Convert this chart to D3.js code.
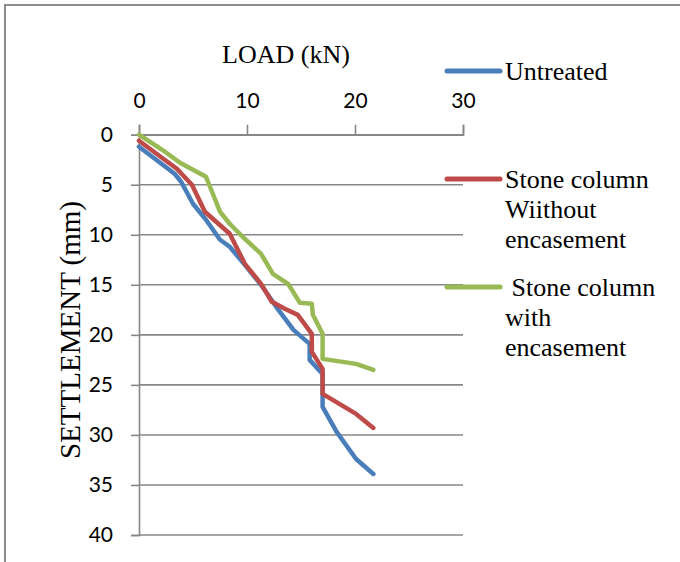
<!DOCTYPE html>
<html>
<head>
<meta charset="utf-8">
<script src="https://cdn.jsdelivr.net/npm/d3@7"></script>
<style>
  html, body { margin: 0; padding: 0; background: #fff; }
  svg { display: block; }
  .serif { font-family: "Liberation Serif", "Times New Roman", serif; fill: #000; }
  .tick text { font-family: Lato, "Open Sans", sans-serif; font-size: 21px; fill: #000; }
</style>
</head>
<body>
<svg id="chart" width="680" height="562"></svg>
<script>
// Load (kN) vs settlement (mm) for each ground condition
const untreatedLoad       = [0, 3.3, 3.9, 5.0, 6.2, 7.5, 8.4, 9.8, 11.3, 12.7, 14.3, 15.8, 15.8, 17.0, 17.0, 18.3, 20.1, 21.7];
const untreatedSettlement = [1.2, 3.9, 4.7, 6.9, 8.5, 10.5, 11.2, 13.0, 15.0, 17.2, 19.5, 20.9, 22.5, 23.9, 27.2, 29.7, 32.4, 33.9];

const withoutEncLoad       = [0, 3.5, 4.9, 6.1, 8.4, 9.8, 11.3, 12.3, 13.5, 14.7, 16.0, 16.0, 17.0, 17.0, 20.1, 21.7];
const withoutEncSettlement = [0.6, 3.4, 5.0, 7.7, 9.9, 12.9, 14.9, 16.7, 17.4, 18.0, 19.9, 21.7, 23.4, 25.9, 27.9, 29.3];

const withEncLoad       = [0, 2.4, 3.8, 6.2, 7.5, 8.4, 9.6, 11.3, 12.4, 13.8, 14.9, 16.0, 16.1, 17.0, 17.0, 20.1, 21.7];
const withEncSettlement = [0, 1.7, 2.8, 4.2, 7.7, 8.9, 10.2, 11.9, 13.9, 14.9, 16.8, 16.9, 18.0, 19.9, 22.4, 22.9, 23.5];

const loadTicks = [0, 10, 20, 30];
const settlementTicks = [0, 5, 10, 15, 20, 25, 30, 35, 40];

const seriesNames = ["Untreated", "Stone column\nWiithout\nencasement", " Stone column\nwith\nencasement"];
const seriesColors = ["#4A7EBB", "#BE4B48", "#98B954"];

const series = [
  { name: seriesNames[0], color: seriesColors[0], load: untreatedLoad, settle: untreatedSettlement },
  { name: seriesNames[1], color: seriesColors[1], load: withoutEncLoad, settle: withoutEncSettlement },
  { name: seriesNames[2], color: seriesColors[2], load: withEncLoad, settle: withEncSettlement }
];

const svg = d3.select("#chart");

// outer chart frame (top and left edges)
svg.append("path")
  .attr("d", "M5,562 L5,5 L680,5")
  .attr("fill", "none").attr("stroke", "#8c8c8c").attr("stroke-width", 2);

const x = d3.scaleLinear().domain([0, 30]).range([139, 463]);
const y = d3.scaleLinear().domain([0, 40]).range([134.7, 535]);

// horizontal gridlines
svg.append("g").selectAll("line")
  .data(settlementTicks)
  .join("line")
  .attr("x1", x(0)).attr("x2", x(30))
  .attr("y1", d => y(d)).attr("y2", d => y(d))
  .attr("stroke", "#878787").attr("stroke-width", 1.6);

// top load axis
const xAxis = svg.append("g")
  .attr("transform", `translate(0,${y(0)})`)
  .call(d3.axisTop(x).tickValues(loadTicks).tickFormat(d3.format("d")).tickSize(10).tickPadding(17));
xAxis.select(".domain").attr("stroke", "#878787").attr("stroke-width", 1.6);
xAxis.selectAll(".tick line").attr("stroke", "#878787").attr("stroke-width", 1.6);

// left settlement axis
const yAxis = svg.append("g")
  .attr("transform", `translate(${x(0)},0)`)
  .call(d3.axisLeft(y).tickValues(settlementTicks).tickFormat(d3.format("d")).tickSize(8).tickPadding(18));
yAxis.select(".domain").attr("stroke", "#878787").attr("stroke-width", 1.6);
yAxis.selectAll(".tick line").attr("stroke", "#878787").attr("stroke-width", 1.6);

// data lines
const line = d3.line().x(d => x(d[0])).y(d => y(d[1]));
svg.append("g").selectAll("path")
  .data(series)
  .join("path")
  .attr("d", s => line(s.load.map((v, i) => [v, s.settle[i]])))
  .attr("fill", "none")
  .attr("stroke", s => s.color)
  .attr("stroke-width", 4.5)
  .attr("stroke-linejoin", "round")
  .attr("stroke-linecap", "round");

// axis titles
svg.append("text").attr("class", "serif")
  .attr("x", 286).attr("y", 63)
  .attr("text-anchor", "middle")
  .attr("font-size", 26)
  .text("LOAD (kN)");

svg.append("text").attr("class", "serif")
  .attr("transform", "translate(80,330) rotate(-90)")
  .attr("text-anchor", "middle")
  .attr("font-size", 29)
  .text("SETTLEMENT (mm)");

// legend
const legendLineY = [71, 179, 287];
const legend = svg.append("g");
series.forEach((s, i) => {
  const g = legend.append("g");
  g.append("line")
    .attr("x1", 447).attr("x2", 500)
    .attr("y1", legendLineY[i]).attr("y2", legendLineY[i])
    .attr("stroke", s.color).attr("stroke-width", 5).attr("stroke-linecap", "round");
  const t = g.append("text").attr("class", "serif")
    .attr("x", 505).attr("y", legendLineY[i] + 8.5)
    .attr("font-size", 26)
    .style("white-space", "pre");
  s.name.split("\n").forEach((ln, j) => {
    t.append("tspan").attr("x", 505).attr("dy", j === 0 ? 0 : 30).text(ln);
  });
});
</script>
</body>
</html>
